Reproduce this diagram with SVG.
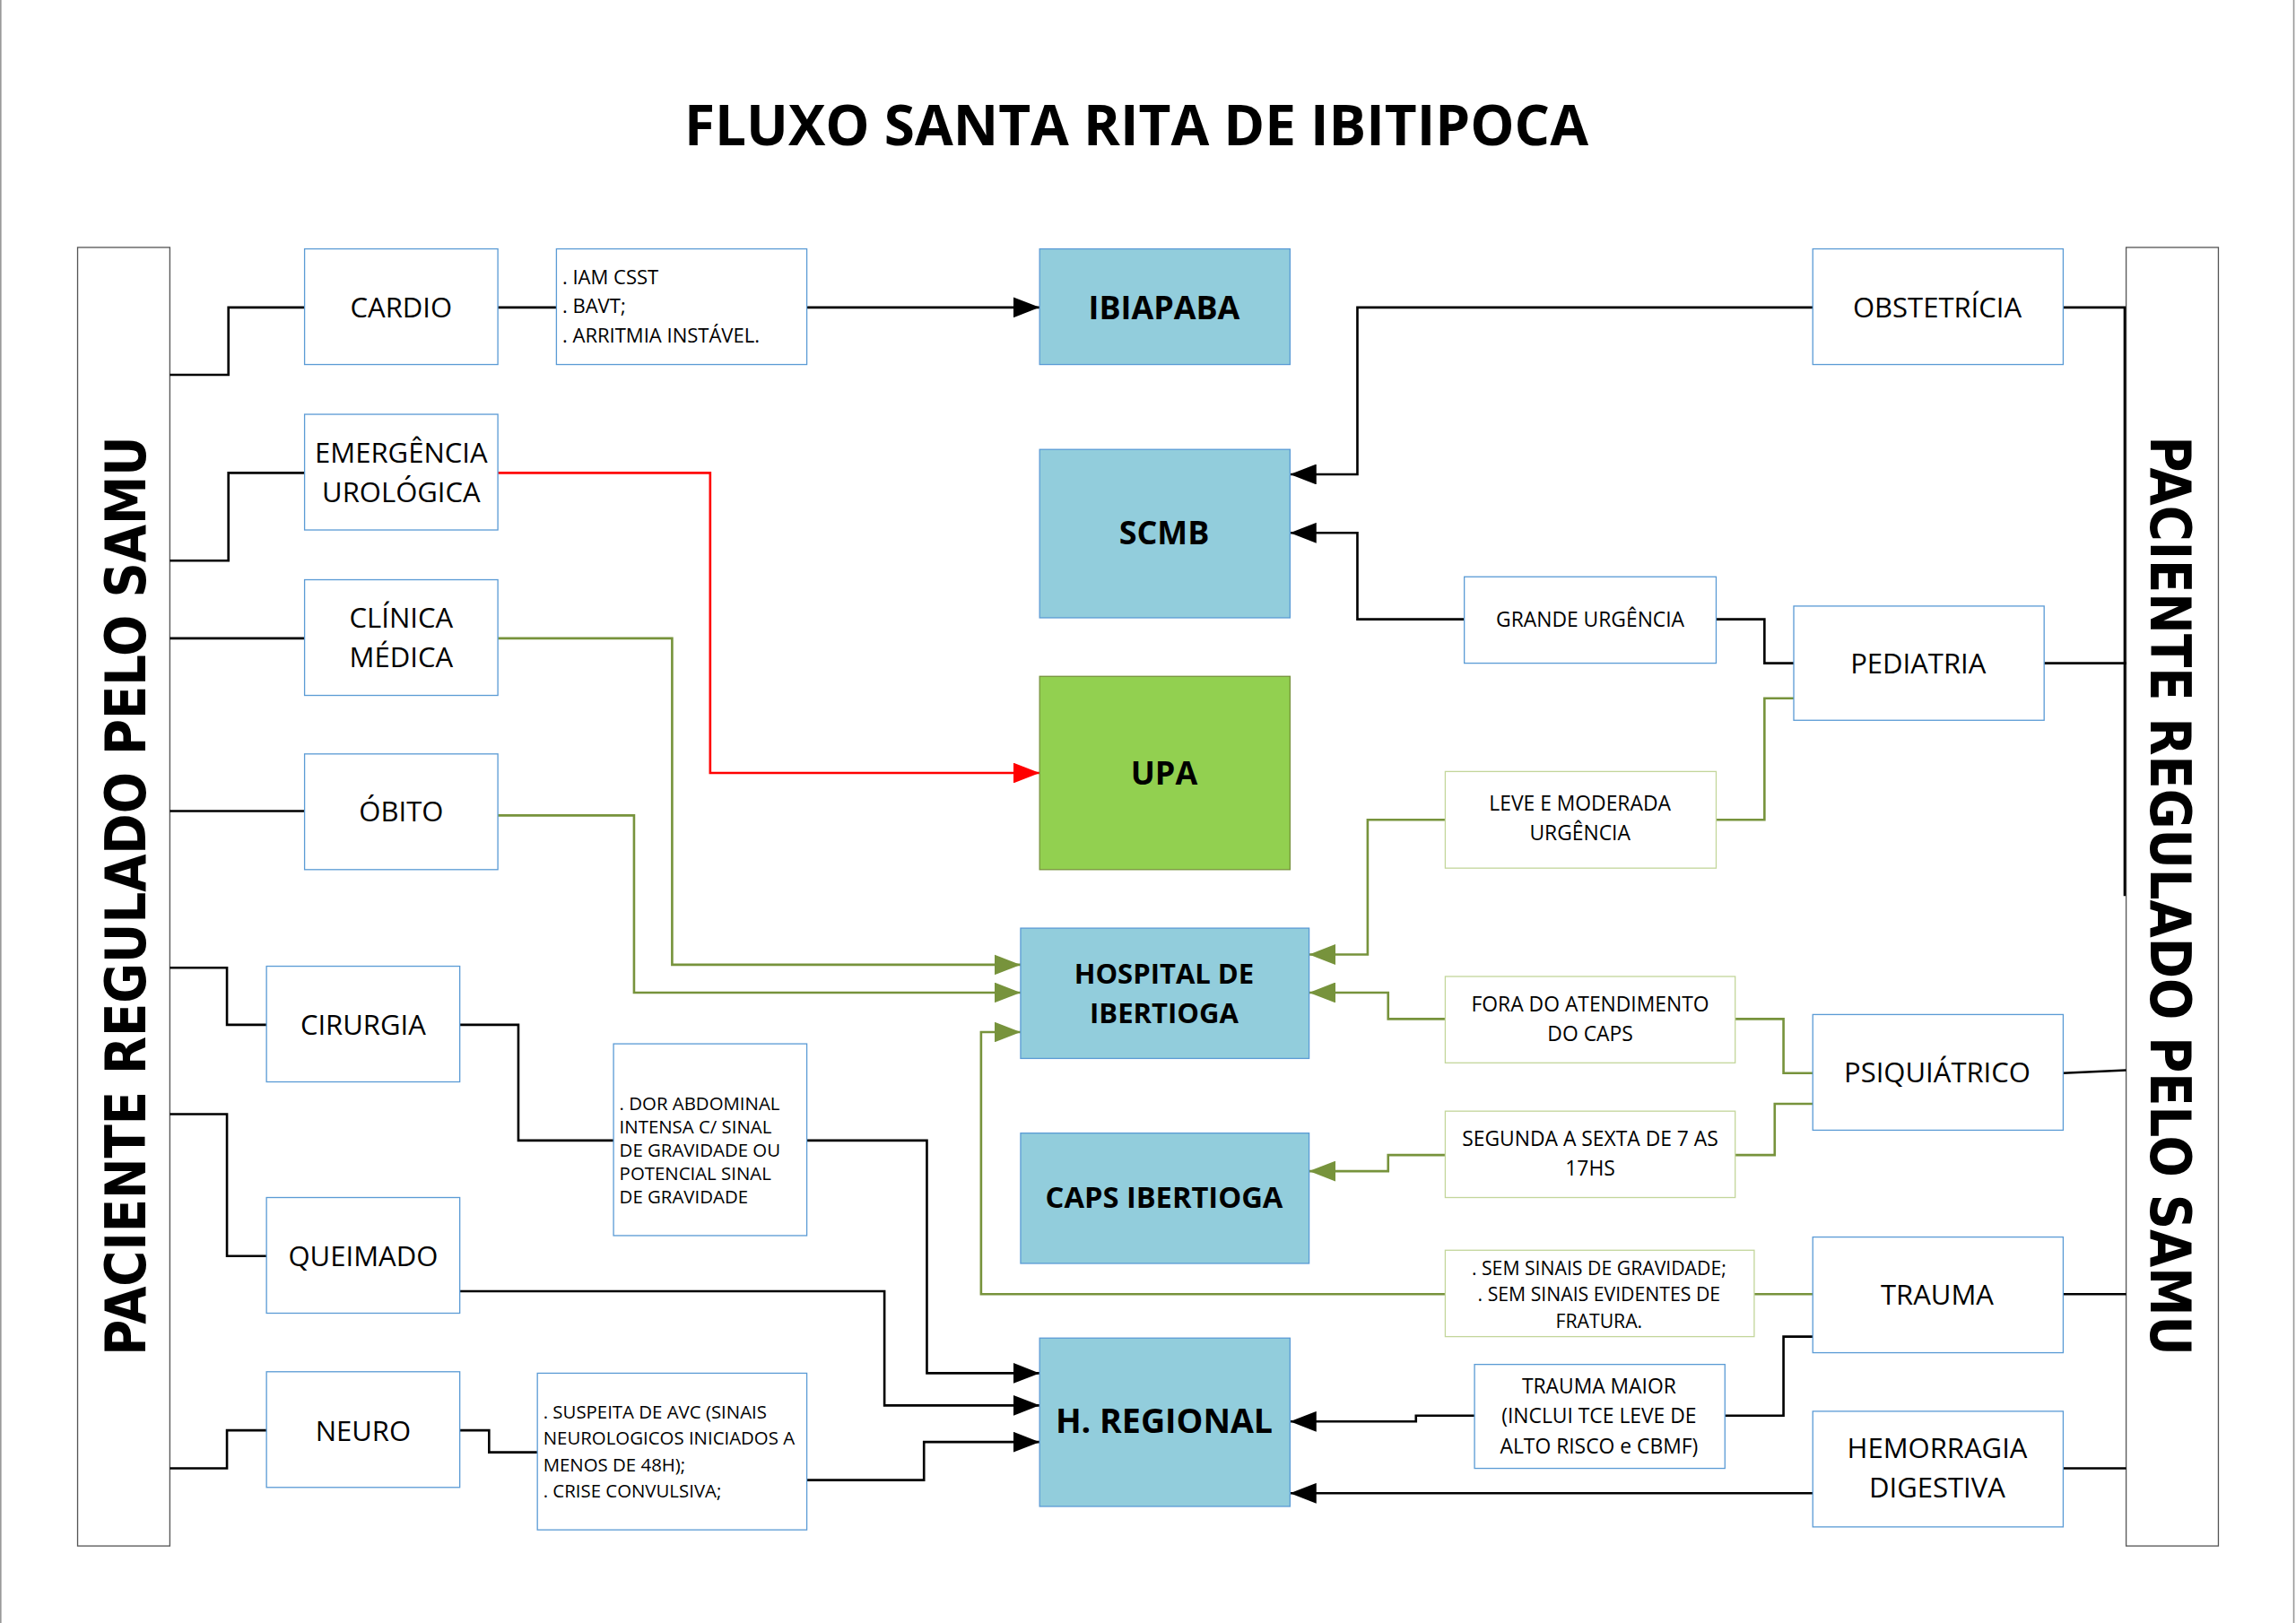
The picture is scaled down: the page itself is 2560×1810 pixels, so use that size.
<svg xmlns="http://www.w3.org/2000/svg" width="2560" height="1810" viewBox="0 0 2560 1810">
<style>
.bx{fill:#fff;stroke:#5b9bd5;stroke-width:0.8}
.gx{fill:#fff;stroke:#c3d69b;stroke-width:0.8}
.c{fill:#92cddc;stroke:#5b9bd5;stroke-width:0.8}
.u{fill:#92d050;stroke:#77933c;stroke-width:0.8}
.bar{fill:#fff;stroke:#555;stroke-width:0.8}
text{font-family:"Open Sans","Liberation Sans",sans-serif;fill:#000}
.t{font-size:19px;text-anchor:middle}
.s{font-size:13.5px}
.sm{font-size:13px;text-anchor:middle}
.b{font-size:22px;font-weight:bold;text-anchor:middle}
.k{fill:none;stroke:#000;stroke-width:1.6}
.r{fill:none;stroke:#ff0000;stroke-width:1.6}
.g{fill:none;stroke:#77933c;stroke-width:1.6}
</style>
<defs>
<marker id="ak" markerUnits="userSpaceOnUse" markerWidth="20" markerHeight="14" refX="18" refY="7" orient="auto"><path d="M0,0 L18,7 L0,14 z" fill="#000"/></marker>
<marker id="ar" markerUnits="userSpaceOnUse" markerWidth="20" markerHeight="14" refX="18" refY="7" orient="auto"><path d="M0,0 L18,7 L0,14 z" fill="#ff0000"/></marker>
<marker id="ag" markerUnits="userSpaceOnUse" markerWidth="20" markerHeight="14" refX="18" refY="7" orient="auto"><path d="M0,0 L18,7 L0,14 z" fill="#77933c"/></marker>
</defs>
<rect width="2560" height="1810" fill="#fff"/>
<g transform="scale(1.63265)">
<rect x="0.5" y="-2" width="1566" height="1120" fill="none" stroke="#999" stroke-width="1"/>
<text x="776" y="99" style="font-size:38px;font-weight:bold;text-anchor:middle">FLUXO SANTA RITA DE IBITIPOCA</text>

<g id="left-bar"><rect class="bar" x="53" y="169" width="63" height="887"/>
<text transform="translate(99,612) rotate(-90)" style="font-family:'DejaVu Sans',sans-serif;font-size:38px;font-weight:bold;text-anchor:middle" textLength="628" lengthAdjust="spacingAndGlyphs">PACIENTE REGULADO PELO SAMU</text></g>
<g id="right-bar"><rect class="bar" x="1452" y="169" width="63" height="887"/>
<text transform="translate(1469,612) rotate(90)" style="font-family:'DejaVu Sans',sans-serif;font-size:38px;font-weight:bold;text-anchor:middle" textLength="628" lengthAdjust="spacingAndGlyphs">PACIENTE REGULADO PELO SAMU</text></g>

<g id="connectors">
<path class="k" d="M116,256H156V210H208"/>
<path class="k" d="M340,210H380"/>
<path class="k" d="M551,210H710" marker-end="url(#ak)"/>
<path class="k" d="M116,383H156V323H208"/>
<path class="r" d="M340,323H485V528H710" marker-end="url(#ar)"/>
<path class="k" d="M116,436H208"/>
<path class="g" d="M340,436H459V659H697" marker-end="url(#ag)"/>
<path class="k" d="M116,554H208"/>
<path class="g" d="M340,557H433V678H697" marker-end="url(#ag)"/>
<path class="k" d="M116,661H155V700H182"/>
<path class="k" d="M314,700H354V779H419"/>
<path class="k" d="M551,779H633V938H710" marker-end="url(#ak)"/>
<path class="k" d="M116,761H155V858H182"/>
<path class="k" d="M314,882H604V960H710" marker-end="url(#ak)"/>
<path class="k" d="M116,1003H155V977H182"/>
<path class="k" d="M314,977H334V992H367"/>
<path class="k" d="M551,1011H631V985H710" marker-end="url(#ak)"/>
<path class="k" d="M1409,210H1451V612"/>
<path class="k" d="M1238,210H927V324H881" marker-end="url(#ak)"/>
<path class="k" d="M1000,423H927V364H881" marker-end="url(#ak)"/>
<path class="k" d="M1172,423H1205V453H1225"/>
<path class="k" d="M1396,453H1452"/>
<path class="g" d="M1225,477H1205V560H1172"/>
<path class="g" d="M987,560H934V652H894" marker-end="url(#ag)"/>
<path class="g" d="M987,696H948V678H894" marker-end="url(#ag)"/>
<path class="g" d="M1185,696H1218V733H1238"/>
<path class="k" d="M1409,733L1452,731"/>
<path class="g" d="M1238,754H1212V789H1185"/>
<path class="g" d="M987,789H948V800H894" marker-end="url(#ag)"/>
<path class="g" d="M1238,884H1198"/>
<path class="g" d="M987,884H670V705H697" marker-end="url(#ag)"/>
<path class="k" d="M1409,884H1452"/>
<path class="k" d="M1238,913H1218V967H1178"/>
<path class="k" d="M1007,967H967V971H881" marker-end="url(#ak)"/>
<path class="k" d="M1238,1020H881" marker-end="url(#ak)"/>
<path class="k" d="M1409,1003H1452"/>
</g>

<g id="cardio"><rect class="bx" x="208" y="170" width="132" height="79"/><text class="t" x="274" y="217">CARDIO</text></g>
<g id="emergencia"><rect class="bx" x="208" y="283" width="132" height="79"/><text class="t" x="274" y="316">EMERGÊNCIA</text><text class="t" x="274" y="343">UROLÓGICA</text></g>
<g id="clinica"><rect class="bx" x="208" y="396" width="132" height="79"/><text class="t" x="274" y="429">CLÍNICA</text><text class="t" x="274" y="456">MÉDICA</text></g>
<g id="obito"><rect class="bx" x="208" y="515" width="132" height="79"/><text class="t" x="274" y="561">ÓBITO</text></g>
<g id="cirurgia"><rect class="bx" x="182" y="660" width="132" height="79"/><text class="t" x="248" y="707">CIRURGIA</text></g>
<g id="queimado"><rect class="bx" x="182" y="818" width="132" height="79"/><text class="t" x="248" y="865">QUEIMADO</text></g>
<g id="neuro"><rect class="bx" x="182" y="937" width="132" height="79"/><text class="t" x="248" y="984">NEURO</text></g>

<g id="iam"><rect class="bx" x="380" y="170" width="171" height="79"/><text class="s" x="384" y="194">. IAM CSST</text><text class="s" x="384" y="214">. BAVT;</text><text class="s" x="384" y="234">. ARRITMIA INSTÁVEL.</text></g>
<g id="dor"><rect class="bx" x="419" y="713" width="132" height="131"/><text class="s" style="font-size:12.5px"><tspan x="423" y="758">. DOR ABDOMINAL</tspan><tspan x="423" y="774">INTENSA C/ SINAL</tspan><tspan x="423" y="790">DE GRAVIDADE OU</tspan><tspan x="423" y="806">POTENCIAL SINAL</tspan><tspan x="423" y="822">DE GRAVIDADE</tspan></text></g>
<g id="avc"><rect class="bx" x="367" y="938" width="184" height="107"/><text class="s" style="font-size:12.5px"><tspan x="371" y="969">. SUSPEITA DE AVC  (SINAIS</tspan><tspan x="371" y="987">NEUROLOGICOS INICIADOS A</tspan><tspan x="371" y="1005">MENOS DE 48H);</tspan><tspan x="371" y="1023">. CRISE CONVULSIVA;</tspan></text></g>

<g id="ibiapaba"><rect class="c" x="710" y="170" width="171" height="79"/><text class="b" x="795" y="218">IBIAPABA</text></g>
<g id="scmb"><rect class="c" x="710" y="307" width="171" height="115"/><text class="b" x="795" y="372">SCMB</text></g>
<g id="upa"><rect class="u" x="710" y="462" width="171" height="132"/><text class="b" x="795" y="536">UPA</text></g>
<g id="hospital"><rect class="c" x="697" y="634" width="197" height="89"/><text class="b" style="font-size:19px" x="795" y="672">HOSPITAL DE</text><text class="b" style="font-size:19px" x="795" y="699">IBERTIOGA</text></g>
<g id="caps"><rect class="c" x="697" y="774" width="197" height="89"/><text class="b" style="font-size:20px" x="795" y="825">CAPS IBERTIOGA</text></g>
<g id="regional"><rect class="c" x="710" y="914" width="171" height="115"/><text class="b" style="font-size:23px" x="795" y="979">H. REGIONAL</text></g>

<g id="obstetricia"><rect class="bx" x="1238" y="170" width="171" height="79"/><text class="t" x="1323" y="217">OBSTETRÍCIA</text></g>
<g id="grande"><rect class="bx" x="1000" y="394" width="172" height="59"/><text class="sm" style="font-size:14px" x="1086" y="428">GRANDE URGÊNCIA</text></g>
<g id="pediatria"><rect class="bx" x="1225" y="414" width="171" height="78"/><text class="t" x="1310" y="460">PEDIATRIA</text></g>
<g id="leve"><rect class="gx" x="987" y="527" width="185" height="66"/><text class="sm" style="font-size:14px" x="1079" y="554">LEVE E MODERADA</text><text class="sm" style="font-size:14px" x="1079" y="574">URGÊNCIA</text></g>
<g id="fora"><rect class="gx" x="987" y="667" width="198" height="59"/><text class="sm" style="font-size:14px" x="1086" y="691">FORA DO ATENDIMENTO</text><text class="sm" style="font-size:14px" x="1086" y="711">DO CAPS</text></g>
<g id="psiquiatrico"><rect class="bx" x="1238" y="693" width="171" height="79"/><text class="t" x="1323" y="739">PSIQUIÁTRICO</text></g>
<g id="segunda"><rect class="gx" x="987" y="759" width="198" height="59"/><text class="sm" style="font-size:14px" x="1086" y="783">SEGUNDA A SEXTA DE 7 AS</text><text class="sm" style="font-size:14px" x="1086" y="803">17HS</text></g>
<g id="semsinais"><rect class="gx" x="987" y="854" width="211" height="59"/><text class="sm" x="1092" y="871">. SEM SINAIS DE GRAVIDADE;</text><text class="sm" x="1092" y="889">. SEM SINAIS EVIDENTES DE</text><text class="sm" x="1092" y="907">FRATURA.</text></g>
<g id="trauma"><rect class="bx" x="1238" y="845" width="171" height="79"/><text class="t" x="1323" y="891">TRAUMA</text></g>
<g id="traumamaior"><rect class="bx" x="1007" y="932" width="171" height="71"/><text class="sm" style="font-size:14px" x="1092" y="952">TRAUMA MAIOR</text><text class="sm" style="font-size:14px" x="1092" y="972">(INCLUI TCE LEVE DE</text><text class="sm" style="font-size:14px" x="1092" y="993">ALTO RISCO e CBMF)</text></g>
<g id="hemorragia"><rect class="bx" x="1238" y="964" width="171" height="79"/><text class="t" x="1323" y="996">HEMORRAGIA</text><text class="t" x="1323" y="1023">DIGESTIVA</text></g>
</g>
</svg>
